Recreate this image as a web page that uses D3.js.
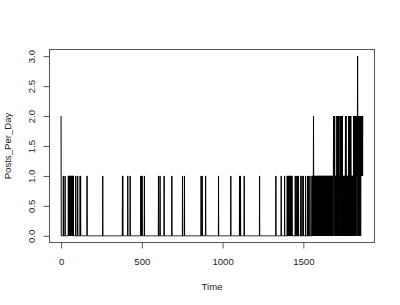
<!DOCTYPE html>
<html><head><meta charset="utf-8">
<script src="https://cdn.jsdelivr.net/npm/d3@7"></script>
<style>html,body{margin:0;padding:0;background:#fff;} svg{display:block}</style>
</head><body><svg id="chart" width="400" height="305"></svg>
<script>
// ---- data ----
const xTicks = [0, 500, 1000, 1500];
const yTicks = [0, 0.5, 1, 1.5, 2, 2.5, 3];
const yTickLabels = ["0.0", "0.5", "1.0", "1.5", "2.0", "2.5", "3.0"];
const xLabel = "Time";
const yLabel = "Posts_Per_Day";
const firstDay = 0, lastDay = 1869;
// days (before lateStart) that had posts, and their counts; other days had 0 posts
const earlyDays = [0, 14, 25, 45, 47, 49, 51, 53, 55, 58, 60, 62, 64, 66, 68, 70, 72, 74, 76,
  91, 103, 118, 121, 161, 258, 380, 382, 413, 428, 494, 497, 502, 516, 603, 613, 638, 686,
  752, 764, 867, 874, 895, 975, 1051, 1105, 1111, 1134, 1229, 1330, 1363, 1384,
  1400, 1403, 1406, 1409, 1412, 1415, 1418, 1421, 1424, 1427, 1430,
  1450, 1456, 1463, 1470, 1484, 1492, 1500, 1514, 1526, 1533, 1541];
const earlyPosts = [2, 1, 1, 1, 1, 1, 1, 1, 1, 1, 1, 1, 1, 1, 1, 1, 1, 1, 1,
  1, 1, 1, 1, 1, 1, 1, 1, 1, 1, 1, 1, 1, 1, 1, 1, 1, 1,
  1, 1, 1, 1, 1, 1, 1, 1, 1, 1, 1, 1, 1, 1,
  1, 1, 1, 1, 1, 1, 1, 1, 1, 1, 1,
  1, 1, 1, 1, 1, 1, 1, 1, 1, 1, 1];
// daily counts from lateStart to lastDay
const lateStart = 1550;
const latePosts = [
  0,0,0,1,1,0,1,1,0,1,1,0,1,2,1,1,0,1,1,0,
  1,1,0,1,0,1,1,0,1,1,0,1,0,1,1,0,1,0,1,1,
  0,1,1,0,1,0,1,1,0,1,1,1,0,1,0,1,1,0,1,0,
  1,1,0,1,1,0,1,0,1,1,0,1,0,1,1,0,1,1,0,1,
  0,1,1,0,1,0,1,1,0,1,0,1,1,0,1,0,1,1,0,1,
  1,0,1,0,1,1,0,1,0,1,1,0,1,0,1,1,0,1,0,1,
  0,1,1,1,0,1,1,1,1,0,1,1,1,0,1,1,1,2,1,2,
  0,1,2,1,2,1,0,1,1,1,0,1,1,1,1,0,1,1,2,1,
  2,0,1,2,1,1,0,2,1,1,1,0,1,1,1,0,1,2,1,2,
  1,0,2,1,1,1,2,0,1,1,2,1,2,0,1,1,1,0,1,1,
  1,0,1,1,0,1,1,1,0,1,1,2,0,1,1,2,0,1,1,1,
  0,1,1,0,1,1,0,1,1,0,2,1,1,2,0,1,2,1,0,2,
  1,1,2,0,2,1,1,0,1,1,0,1,1,1,0,1,1,0,1,1,
  0,2,1,2,1,2,2,0,1,2,1,2,2,0,2,1,1,2,1,2,
  2,0,2,1,1,2,3,2,0,2,2,1,2,0,1,2,1,2,2,0,
  2,1,2,1,2,0,1,2,1,2,1,1,2,2,1,2,2,1,2,2
];

// ---- build series ----
const earlyMap = new Map(earlyDays.map((d, i) => [d, earlyPosts[i]]));
const series = [];
for (let t = firstDay; t <= lastDay; t++) {
  const v = t >= lateStart ? latePosts[t - lateStart] : (earlyMap.get(t) || 0);
  series.push({ t, v });
}

// ---- layout ----
const svg = d3.select("#chart");
const L = 49, R = 375, T = 49, B = 243;
const xr = lastDay - firstDay;
const x = d3.scaleLinear().domain([firstDay - 0.04 * xr, lastDay + 0.04 * xr]).range([L, R]);
const y = d3.scaleLinear().domain([-0.12, 3.12]).range([B, T]);

const font = "'Liberation Sans', Arial, Helvetica, sans-serif";
const axisColor = "#555";
const textColor = "#222";

// data line
svg.append("path")
  .datum(series)
  .attr("fill", "none")
  .attr("stroke", "#000")
  .attr("stroke-width", 1)
  .attr("stroke-linejoin", "round")
  .attr("d", d3.line().x(d => x(d.t)).y(d => y(d.v)));

// box
svg.append("rect")
  .attr("x", L + 0.5).attr("y", T + 0.5)
  .attr("width", R - L - 1).attr("height", B - T - 1)
  .attr("fill", "none").attr("stroke", axisColor).attr("stroke-width", 1);

// y axis
const gy = svg.append("g").attr("transform", `translate(${L + 0.5},0)`)
  .call(d3.axisLeft(y).tickValues(yTicks).tickFormat((d, i) => yTickLabels[i]).tickSize(6).tickSizeOuter(0));
gy.select(".domain").remove();
gy.selectAll(".tick line").attr("stroke", axisColor);
gy.selectAll(".tick text")
  .attr("font-family", font).attr("font-size", 9.6).attr("fill", textColor)
  .attr("x", 0).attr("dy", "0.35em").attr("text-anchor", "middle")
  .attr("transform", "translate(-18,0) rotate(-90)");

// x axis
const gx = svg.append("g").attr("transform", `translate(0,${B - 0.5})`)
  .call(d3.axisBottom(x).tickValues(xTicks).tickFormat(d3.format("d")).tickSize(6).tickSizeOuter(0));
gx.select(".domain").remove();
gx.selectAll(".tick line").attr("stroke", axisColor);
gx.selectAll(".tick text")
  .attr("font-family", font).attr("font-size", 9.6).attr("fill", textColor)
  .attr("y", 19).attr("dy", "0.35em");

// axis titles
svg.append("text")
  .attr("x", (L + R) / 2).attr("y", 287).attr("dy", "0.35em")
  .attr("text-anchor", "middle")
  .attr("font-family", font).attr("font-size", 9.6).attr("fill", textColor)
  .text(xLabel);
svg.append("text")
  .attr("transform", `translate(8,${(T + B) / 2}) rotate(-90)`)
  .attr("dy", "0.35em")
  .attr("text-anchor", "middle")
  .attr("font-family", font).attr("font-size", 9.6).attr("fill", textColor)
  .text(yLabel);
</script>
</body></html>
